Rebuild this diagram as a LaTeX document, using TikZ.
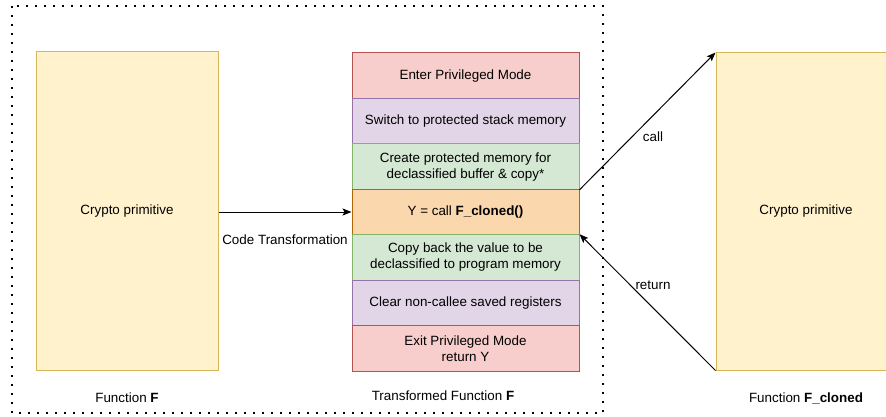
\documentclass[tikz,border=0pt]{standalone}
\usepackage{fontspec}
\setmainfont{Liberation Sans}
\usetikzlibrary{arrows.meta}
\definecolor{redF}{HTML}{F8CECC}\definecolor{redS}{HTML}{B85450}
\definecolor{purF}{HTML}{E1D5E7}\definecolor{purS}{HTML}{9673A6}
\definecolor{grnF}{HTML}{D5E8D4}\definecolor{grnS}{HTML}{82B366}
\definecolor{orgF}{HTML}{FAD7AC}\definecolor{orgS}{HTML}{B46504}
\definecolor{ylwF}{HTML}{FFF2CC}\definecolor{ylwS}{HTML}{D6B656}
\tikzset{
  base/.style={font=\fontsize{13.4}{16}\selectfont, text=black},
  bigbox/.style={base, draw=ylwS, fill=ylwF, line width=1pt, minimum width=182pt, minimum height=318pt, inner sep=0pt},
  row/.style={base, line width=1pt, minimum width=227pt, minimum height=45.43pt, inner sep=0pt, align=center},
  redrow/.style={row, draw=redS, fill=redF},
  purrow/.style={row, draw=purS, fill=purF},
  grnrow/.style={row, draw=grnS, fill=grnF},
  orgrow/.style={row, draw=orgS, fill=orgF},
  lbl/.style={base, inner sep=1pt},
  conn/.style={line width=1pt, -{Stealth[length=9pt,width=7pt,inset=2pt]}},
  frame/.style={line width=2pt, dash pattern=on 2pt off 7pt}
}
\begin{document}
\begin{tikzpicture}[x=1pt,y=-1pt]
\useasboundingbox (0,0) rectangle (886,417);
\draw[frame] (12,6) rectangle (603,413);
\node[bigbox] (F) at (127,211) {Crypto primitive};
\node[bigbox, minimum width=180pt, minimum height=317pt] (FC) at (806,211.5) {Crypto primitive};
\node[redrow] (r1) at (465.5,75.7) {Enter Privileged Mode};
\node[purrow] (r2) at (465.5,121.1) {Switch to protected stack memory};
\node[grnrow] (r3) at (465.5,166.6) {Create protected memory for\\declassified buffer \& copy*};
\node[orgrow] (r4) at (465.5,212.0) {Y = call \textbf{F\_cloned()}};
\node[grnrow] (r5) at (465.5,257.4) {Copy back the value to be\\declassified to program memory};
\node[purrow] (r6) at (465.5,302.9) {Clear non-callee saved registers};
\node[redrow] (r7) at (465.5,348.3) {Exit Privileged Mode\\return Y};
\node[lbl] (lF) at (127,398) {Function \textbf{F}};
\node[lbl] (lT) at (443,396) {Transformed Function \textbf{F}};
\node[lbl] (lC) at (806,398) {Function \textbf{F\_cloned}};
\draw[conn] (F.east |- r4.west) -- (r4.west);
\node[lbl] (ct) at (285,240) {Code Transformation};
\draw[conn] (r3.south east) -- (FC.north west);
\node[lbl] (call) at (653,137) {call};
\draw[conn] (FC.south west) -- (r5.north east);
\node[lbl] (ret) at (653,285) {return};
\end{tikzpicture}
\end{document}
